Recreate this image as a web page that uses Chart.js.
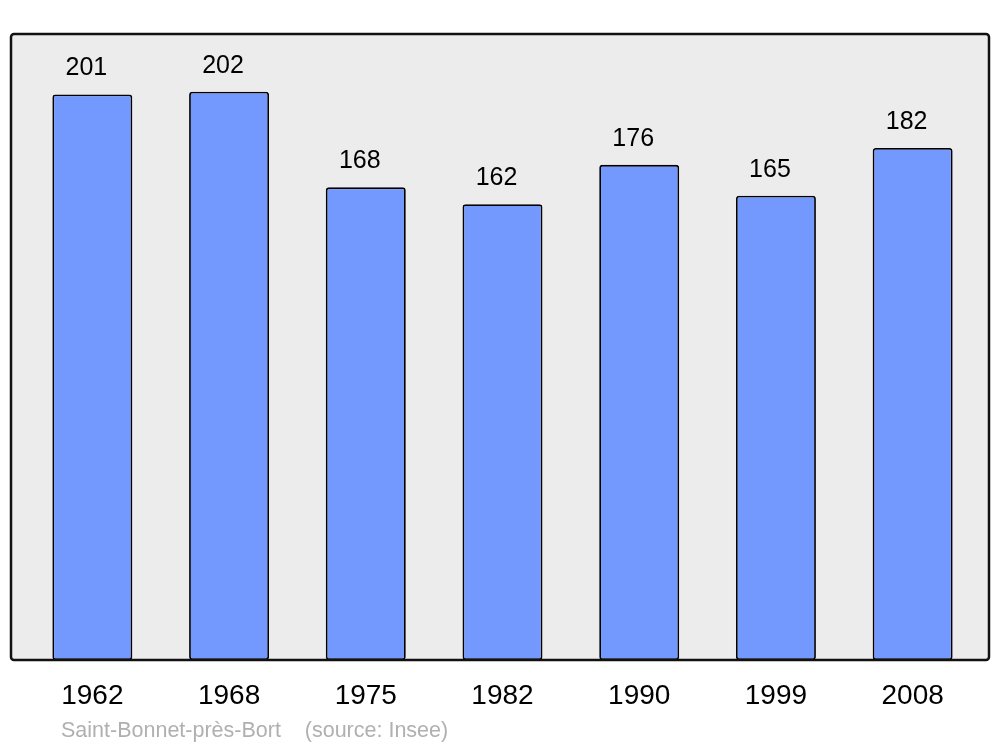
<!DOCTYPE html>
<html>
<head>
<meta charset="utf-8">
<script src="https://cdn.jsdelivr.net/npm/chart.js@4/dist/chart.umd.min.js"></script>
<style>
  html, body { margin: 0; padding: 0; background: #fff; }
  #wrap { width: 1000px; height: 747px; }
</style>
</head>
<body>
<div id="wrap"><canvas id="popChart" width="1000" height="747"></canvas></div>
<script>
// data
const years = ['1962', '1968', '1975', '1982', '1990', '1999', '2008'];
const population = [201, 202, 168, 162, 176, 165, 182];
const yMax = 222.5;
const caption = 'Saint-Bonnet-près-Bort    (source: Insee)';

const FONT = "'Liberation Sans', Arial, sans-serif";

// grey frame behind the bars
const framePlugin = {
    id: 'frame',
    beforeDraw(chart) {
        const { ctx, chartArea } = chart;
        const left = chartArea.left - 13, right = chartArea.right + 8;
        const top = chartArea.top, bottom = chartArea.bottom;
        ctx.save();
        ctx.beginPath();
        ctx.roundRect(left, top, right - left, bottom - top, 3);
        ctx.fillStyle = '#ececec';
        ctx.fill();
        ctx.restore();
    },
    afterDatasetsDraw(chart) {
        const { ctx, chartArea } = chart;
        const left = chartArea.left - 13, right = chartArea.right + 8;
        const top = chartArea.top, bottom = chartArea.bottom;
        ctx.save();
        ctx.beginPath();
        ctx.roundRect(left, top, right - left, bottom - top, 3);
        ctx.lineWidth = 2.5;
        ctx.strokeStyle = '#111';
        ctx.stroke();

        // caption under the axis
        ctx.font = '21.5px ' + FONT;
        ctx.fillStyle = '#b0b0b0';
        ctx.textBaseline = 'alphabetic';
        ctx.textAlign = 'left';
        ctx.fillText(caption, left + 50, bottom + 77);
        ctx.restore();
    }
};

// value on top of each bar
const valueLabels = {
    id: 'valueLabels',
    afterDatasetsDraw(chart) {
        const { ctx } = chart;
        const meta = chart.getDatasetMeta(0);
        ctx.save();
        ctx.font = '25px ' + FONT;
        ctx.fillStyle = '#000';
        ctx.textAlign = 'center';
        ctx.textBaseline = 'alphabetic';
        meta.data.forEach((bar, i) => {
            ctx.fillText(population[i], bar.x - 6, bar.y - 19);
        });
        ctx.restore();
    }
};

new Chart(document.getElementById('popChart'), {
    type: 'bar',
    data: {
        labels: years,
        datasets: [{
            data: population,
            backgroundColor: '#7399ff',
            borderColor: '#000',
            borderWidth: 1.8,
            borderRadius: 3,
            borderSkipped: false,
            barPercentage: 0.585,
            categoryPercentage: 1
        }]
    },
    options: {
        responsive: false,
        animation: false,
        layout: { padding: { top: 34, left: 24, right: 19, bottom: 0 } },
        plugins: {
            legend: { display: false },
            tooltip: { enabled: false }
        },
        scales: {
            x: {
                grid: { display: false, drawTicks: false },
                border: { display: false },
                ticks: {
                    color: '#000',
                    font: { family: FONT, size: 28 },
                    padding: 19,
                    maxRotation: 0
                },
                afterFit(scale) { scale.height = 87; }
            },
            y: {
                display: false,
                min: 0,
                max: yMax
            }
        }
    },
    plugins: [framePlugin, valueLabels]
});
</script>
</body>
</html>
